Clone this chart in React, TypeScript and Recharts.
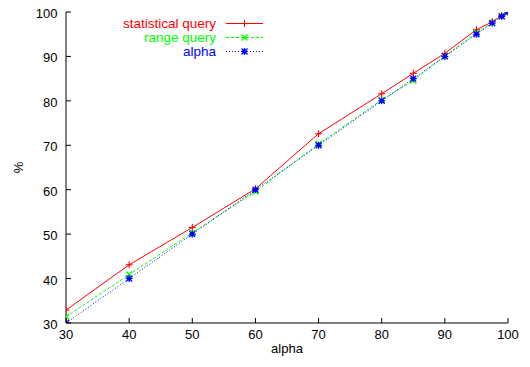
import React from 'react';
import { LineChart, Line, XAxis, YAxis, Customized } from 'recharts';

const alphaValues = [30, 40, 50, 60, 70, 80, 85, 90, 95, 97.5, 99, 100];
const statisticalQuery = [32.9, 43.1, 51.5, 60.2, 72.6, 81.6, 86.2, 90.7, 96.0, 97.8, 99.2, 100];
const rangeQuery = [31.4, 40.9, 50.3, 59.6, 70.3, 80.2, 84.6, 90.1, 95.3, 97.6, 99.1, 100];
const alphaSeries = [30, 40, 50, 60, 70, 80, 85, 90, 95, 97.5, 99, 100];
const xTicks = [30, 40, 50, 60, 70, 80, 90, 100];
const yTicks = [30, 40, 50, 60, 70, 80, 90, 100];

const seriesNames = ['statistical query', 'range query', 'alpha'];
const seriesKeys = ['stat', 'range', 'alpha'];
const seriesColors = ['#ff0000', '#00ff00', '#0000ff'];
const seriesDash = [undefined, '3 2', '1 2'];

const data = alphaValues.map((a, i) => ({
  a,
  stat: statisticalQuery[i],
  range: rangeQuery[i],
  alpha: alphaSeries[i],
}));

const FONT = '"Liberation Sans", Arial, Helvetica, sans-serif';
const TICK = 5;

function Marker({ kind, cx, cy, color }: { kind: number; cx: number; cy: number; color: string }) {
  const s = 3.5;
  if (kind === 0) {
    return (
      <g stroke={color} strokeWidth={1.1}>
        <line x1={cx - s} x2={cx + s} y1={cy} y2={cy} />
        <line x1={cx} x2={cx} y1={cy - s} y2={cy + s} />
      </g>
    );
  }
  if (kind === 1) {
    const t = 3;
    return (
      <g stroke={color} strokeWidth={1.4}>
        <line x1={cx - t} x2={cx + t} y1={cy - t} y2={cy + t} />
        <line x1={cx - t} x2={cx + t} y1={cy + t} y2={cy - t} />
      </g>
    );
  }
  const t = 3;
  return (
    <g stroke={color} strokeWidth={1.2}>
      <line x1={cx - s} x2={cx + s} y1={cy} y2={cy} />
      <line x1={cx} x2={cx} y1={cy - s} y2={cy + s} />
      <line x1={cx - t} x2={cx + t} y1={cy - t} y2={cy + t} />
      <line x1={cx - t} x2={cx + t} y1={cy + t} y2={cy - t} />
      <rect x={cx - 2} y={cy - 2} width={4} height={4} fill={color} stroke="none" />
    </g>
  );
}

const makeDot = (kind: number) => (props: any) => {
  const { cx, cy, index } = props;
  if (cx == null || cy == null) return <g key={`d${kind}-${index}`} />;
  return (
    <g key={`d${kind}-${index}`}>
      <Marker kind={kind} cx={cx} cy={cy} color={seriesColors[kind]} />
    </g>
  );
};

const BottomTick = (props: any) => {
  const { x, y, payload } = props;
  return (
    <g>
      <line x1={x} x2={x} y1={y} y2={y - TICK} stroke="#000" />
      <text x={x} y={y + 16} textAnchor="middle" fontSize={13} fontFamily={FONT} fill="#000">
        {payload.value}
      </text>
    </g>
  );
};

const TopTick = (props: any) => {
  const { x, y } = props;
  return <line x1={x} x2={x} y1={y} y2={y + TICK} stroke="#000" />;
};

const LeftTick = (props: any) => {
  const { x, y, payload } = props;
  return (
    <g>
      <line x1={x} x2={x + TICK} y1={y} y2={y} stroke="#000" />
      <text x={x - 8.5} y={y + 6} textAnchor="end" fontSize={13} fontFamily={FONT} fill="#000">
        {payload.value}
      </text>
    </g>
  );
};

const RightTick = (props: any) => {
  const { x, y } = props;
  return <line x1={x} x2={x - TICK} y1={y} y2={y} stroke="#000" />;
};

const LegendBox = () => {
  const rows = [23.5, 37.5, 51.5];
  return (
    <g>
      {seriesNames.map((name, i) => (
        <g key={name}>
          <text
            x={216}
            y={rows[i] + 4.5}
            textAnchor="end"
            fontSize={13.5}
            fontFamily={FONT}
            fill={seriesColors[i]}
          >
            {name}
          </text>
          <line
            x1={226}
            x2={263}
            y1={rows[i]}
            y2={rows[i]}
            stroke={seriesColors[i]}
            strokeWidth={1}
            strokeDasharray={seriesDash[i]}
          />
          <Marker kind={i} cx={244.5} cy={rows[i]} color={seriesColors[i]} />
        </g>
      ))}
    </g>
  );
};

export default function App() {
  return (
    <div style={{ position: 'absolute', left: 0, top: 0, background: '#fff' }}>
      <LineChart width={530} height={367} data={data} margin={{ top: 12, right: 22, left: 0, bottom: 0 }}>
        <XAxis
          dataKey="a"
          type="number"
          domain={[30, 100]}
          ticks={xTicks}
          height={44}
          tickSize={0}
          tickMargin={0}
          tickLine={false}
          axisLine={{ stroke: '#000', strokeWidth: 1 }}
          tick={<BottomTick />}
          interval={0}
          allowDataOverflow
          label={(p: any) => {
            const vb = p.viewBox || {};
            return (
              <text
                x={(vb.x ?? 66) + (vb.width ?? 442) / 2}
                y={(vb.y ?? 323) + 30}
                textAnchor="middle"
                fontSize={13}
                fontFamily={FONT}
                fill="#000"
              >
                alpha
              </text>
            );
          }}
        />
        <XAxis
          xAxisId="top"
          orientation="top"
          dataKey="a"
          type="number"
          domain={[30, 100]}
          ticks={xTicks}
          height={0}
          tickSize={0}
          tickMargin={0}
          tickLine={false}
          axisLine={{ stroke: '#000', strokeWidth: 1 }}
          tick={<TopTick />}
          interval={0}
          allowDataOverflow
        />
        <YAxis
          type="number"
          domain={[30, 100]}
          ticks={yTicks}
          width={66}
          tickSize={0}
          tickMargin={0}
          tickLine={false}
          axisLine={{ stroke: '#000', strokeWidth: 1 }}
          tick={<LeftTick />}
          interval={0}
          allowDataOverflow
          label={(p: any) => {
            const vb = p.viewBox || {};
            const cy = (vb.y ?? 12) + (vb.height ?? 311) / 2;
            const cx = (vb.x ?? 0) + 23;
            return (
              <text
                x={cx}
                y={cy}
                transform={`rotate(-90 ${cx} ${cy})`}
                textAnchor="middle"
                fontSize={13}
                fontFamily={FONT}
                fill="#000"
              >
                %
              </text>
            );
          }}
        />
        <YAxis
          yAxisId="right"
          orientation="right"
          type="number"
          domain={[30, 100]}
          ticks={yTicks}
          width={0}
          tickSize={0}
          tickMargin={0}
          tickLine={false}
          axisLine={{ stroke: '#000', strokeWidth: 1 }}
          tick={<RightTick />}
          interval={0}
          allowDataOverflow
        />
        {seriesKeys.map((k, i) => (
          <Line
            key={k}
            dataKey={k}
            type="linear"
            stroke={seriesColors[i]}
            strokeWidth={1}
            strokeDasharray={seriesDash[i]}
            dot={makeDot(i)}
            activeDot={false}
            isAnimationActive={false}
          />
        ))}
        <Customized component={LegendBox} />
      </LineChart>
    </div>
  );
}
